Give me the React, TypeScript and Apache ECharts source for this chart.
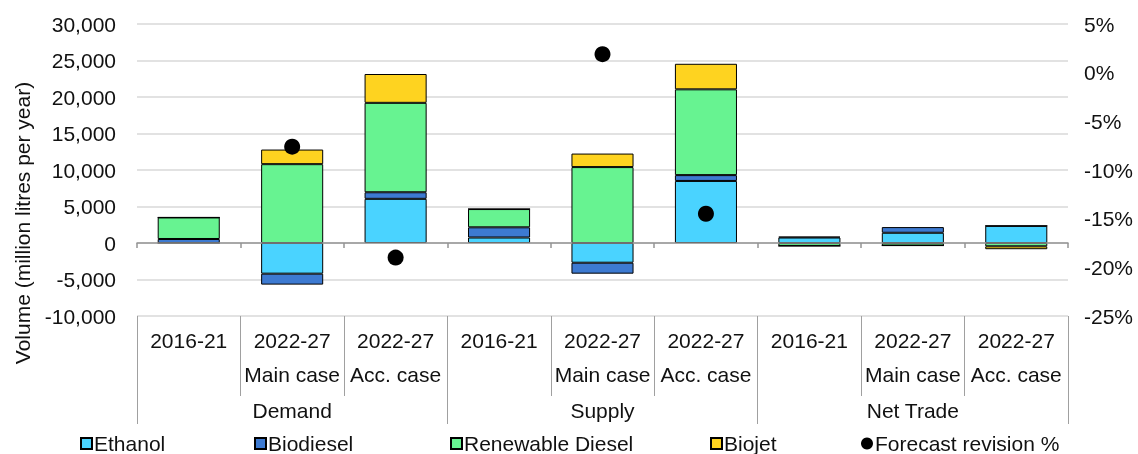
import React, { useEffect, useRef } from "react";
import * as echarts from "echarts";

const periods = ["2016-21", "2022-27", "2022-27", "2016-21", "2022-27", "2022-27", "2016-21", "2022-27", "2022-27"];
const cases = ["", "Main case", "Acc. case", "", "Main case", "Acc. case", "", "Main case", "Acc. case"];
const groups = ["Demand", "Supply", "Net Trade"];

const ethanol = [0, -4200, 6050, 750, -2700, 8500, 750, 1400, 2350];
const biodiesel = [550, -1500, 900, 1400, -1500, 800, 120, 780, 0];
const renewableDiesel = [2950, 10800, 12250, 2500, 10400, 11750, -400, -350, -450];
const biojet = [0, 2000, 3950, 0, 1850, 3500, 0, 0, -400];
const forecastRevision = [null, -7.6, -19.0, null, 1.9, -14.5, null, null, null];

const yLeftTicks = { min: -10000, max: 30000, interval: 5000 };
const yRightTicks = { min: -25, max: 5, interval: 5 };

const FONT = "Liberation Sans, Arial, sans-serif";
const TXT = "#111";
const FS = 21;

export default function App() {
  const ref = useRef<HTMLDivElement>(null);
  useEffect(() => {
    if (!ref.current) return;
    const chart = echarts.init(ref.current, undefined, { renderer: "svg" });
    const categories = periods.map((p, i) => (cases[i] ? p + "\n" + cases[i] : p));
    const barStyle = (color: string) => ({ color, borderColor: "#000", borderWidth: 1 });
    const barSeries = (name: string, data: number[], color: string) => ({
      name,
      type: "bar",
      stack: "total",
      data,
      barWidth: "60%",
      itemStyle: barStyle(color),
      xAxisIndex: 0,
      yAxisIndex: 0,
    });
    const legendItem = (name: string, left: number, icon: string, size: number) => ({
      data: [{ name, icon }],
      left,
      top: 433,
      padding: 0,
      itemWidth: size,
      itemHeight: size,
      textStyle: { fontSize: FS, fontFamily: FONT, color: TXT, padding: [0, 0, 0, -3] },
    });
    chart.setOption({
      animation: false,
      textStyle: { fontFamily: FONT },
      grid: { left: 137, right: 70, top: 24, bottom: 138, containLabel: false },
      legend: [
        legendItem("Ethanol", 80, "rect", 11),
        legendItem("Biodiesel", 254, "rect", 11),
        legendItem("Renewable Diesel", 450, "rect", 11),
        legendItem("Biojet", 710, "rect", 11),
        legendItem("Forecast revision %", 861, "circle", 12),
      ],
      xAxis: [
        {
          type: "category",
          data: categories,
          position: "bottom",
          z: 4,
          axisLine: { onZero: true, lineStyle: { color: "#959595", width: 1.5 } },
          axisTick: { show: true, length: 5, interval: 0, lineStyle: { color: "#959595", width: 1.5 } },
          axisLabel: { show: false },
          splitLine: { show: false },
        },
        {
          type: "category",
          data: categories,
          position: "bottom",
          axisLine: { show: false, onZero: false },
          axisTick: { show: true, length: 80, interval: 0, lineStyle: { color: "#a0a0a0", width: 1 } },
          axisLabel: {
            show: true,
            interval: 0,
            margin: 7,
            fontSize: FS,
            lineHeight: 34,
            color: TXT,
            fontFamily: FONT,
            verticalAlign: "top",
          },
        },
        {
          type: "category",
          data: groups,
          position: "bottom",
          axisLine: { show: false, onZero: false },
          axisTick: { show: true, length: 108, interval: 0, lineStyle: { color: "#a0a0a0", width: 1 } },
          axisLabel: {
            show: true,
            interval: 0,
            margin: 82,
            fontSize: FS,
            lineHeight: 24,
            color: TXT,
            fontFamily: FONT,
            verticalAlign: "top",
          },
        },
      ],
      yAxis: [
        {
          type: "value",
          ...yLeftTicks,
          position: "left",
          axisLine: { show: false },
          axisTick: { show: false },
          splitLine: { show: true, lineStyle: { color: "#d9d9d9", width: 1.5 } },
          axisLabel: {
            margin: 21,
            fontSize: FS,
            color: TXT,
            fontFamily: FONT,
            formatter: (v: number) => v.toLocaleString("en-US"),
          },
        },
        {
          type: "value",
          ...yRightTicks,
          position: "right",
          axisLine: { show: false },
          axisTick: { show: false },
          splitLine: { show: false },
          axisLabel: {
            margin: 16,
            fontSize: FS,
            color: TXT,
            fontFamily: FONT,
            formatter: (v: number) => v + "%",
          },
        },
      ],
      graphic: [
        {
          type: "text",
          x: 22,
          y: 223,
          rotation: Math.PI / 2,
          style: {
            text: "Volume (million litres per year)",
            fontSize: FS,
            fontFamily: FONT,
            fill: TXT,
            align: "center",
            verticalAlign: "middle",
          },
        },
      ],
      series: [
        barSeries("Ethanol", ethanol, "#4AD3FF"),
        barSeries("Biodiesel", biodiesel, "#3D7AD1"),
        barSeries("Renewable Diesel", renewableDiesel, "#67F391"),
        barSeries("Biojet", biojet, "#FED320"),
        {
          name: "Forecast revision %",
          type: "scatter",
          data: forecastRevision,
          xAxisIndex: 0,
          yAxisIndex: 1,
          symbol: "circle",
          symbolSize: 16,
          itemStyle: { color: "#000", opacity: 1 },
          z: 5,
        },
      ],
    });
    return () => chart.dispose();
  }, []);
  return <div ref={ref} style={{ position: "fixed", left: 0, top: 0, width: 1138, height: 454 }} />;
}
